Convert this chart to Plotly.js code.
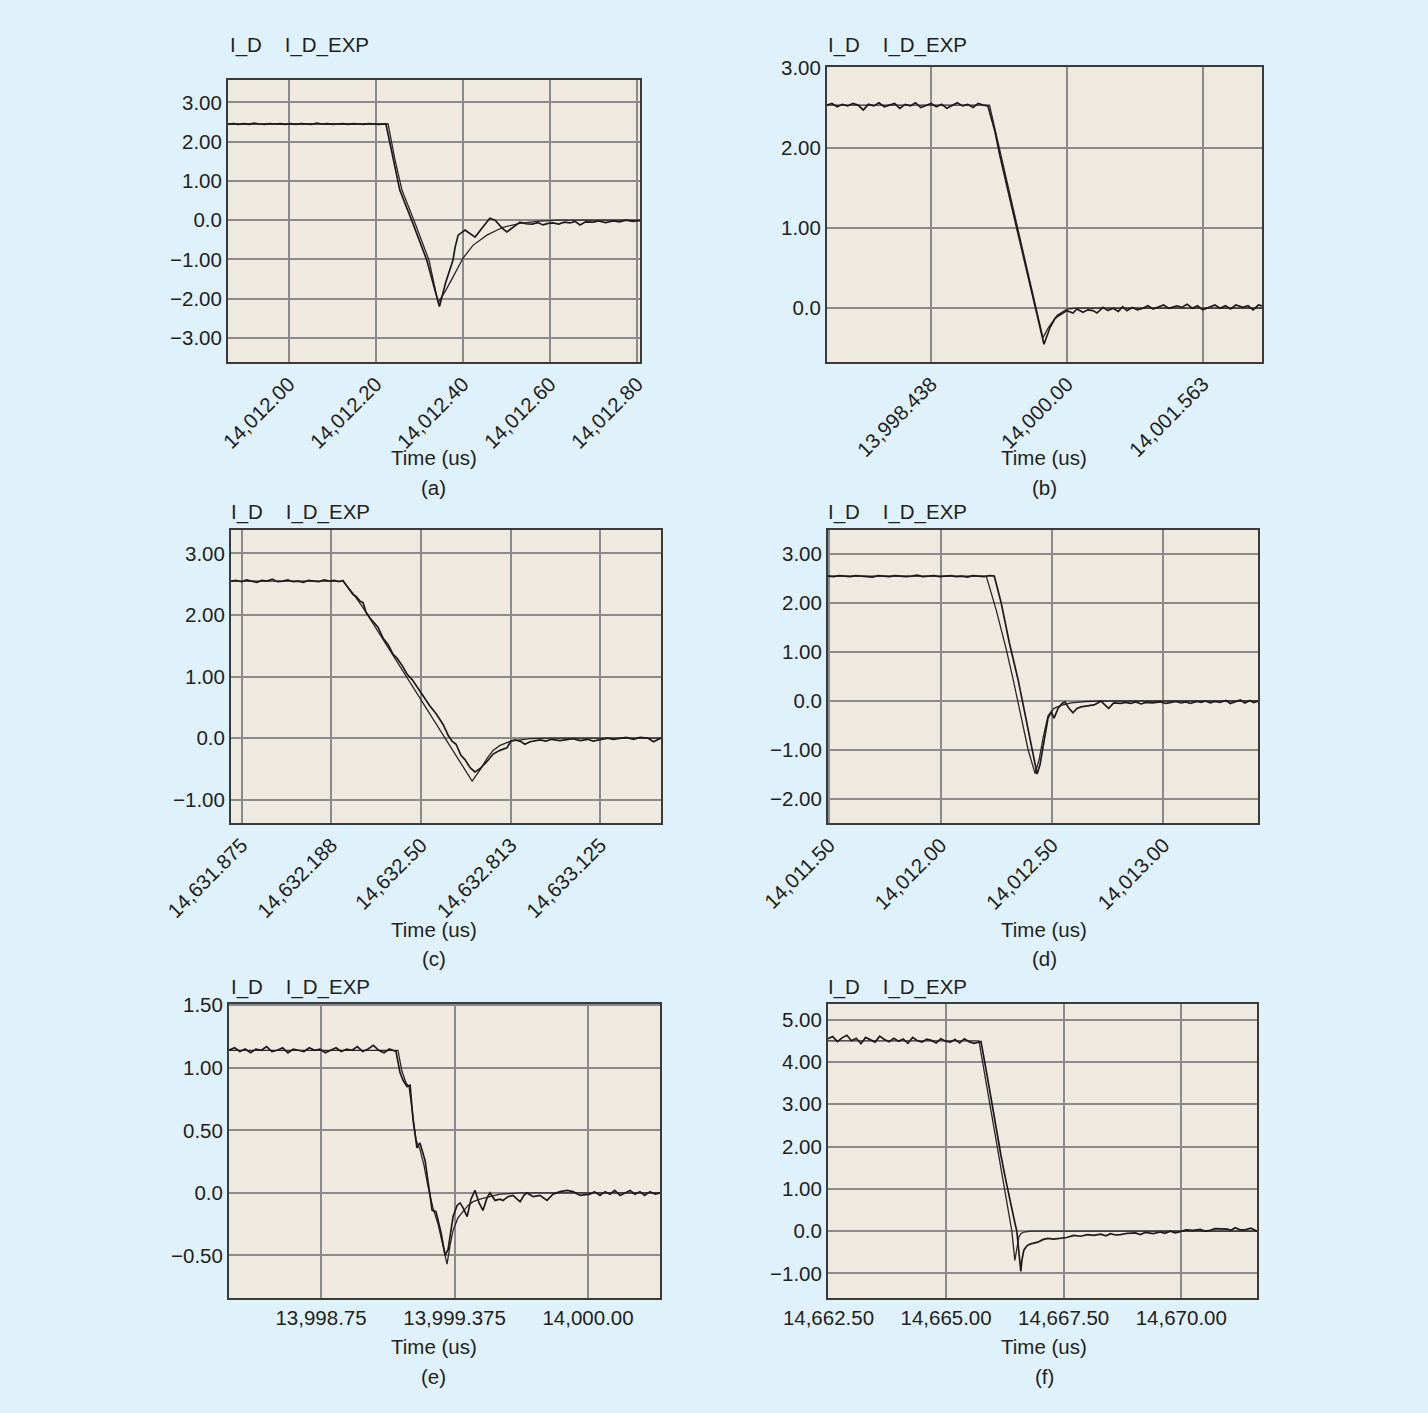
<!DOCTYPE html>
<html><head><meta charset="utf-8">
<script src="https://cdn.plot.ly/plotly-3.0.1.min.js"></script>
<style>html,body{margin:0;padding:0;background:#dff1fb;}#chart{width:1428px;height:1413px;}</style>
</head><body><div id="chart"></div>
<script>
// ---------------- Panel (a) ----------------
const a_t_id=[14011.860,14011.872,14011.884,14011.896,14011.908,14011.920,14011.932,14011.944,14011.956,14011.968,14011.980,14011.992,14012.004,14012.016,14012.028,14012.040,14012.052,14012.064,14012.076,14012.088,14012.100,14012.112,14012.124,14012.136,14012.148,14012.160,14012.172,14012.184,14012.196,14012.208,14012.223,
14012.239,14012.255,14012.285,14012.317,14012.346,14012.360,14012.377,14012.382,14012.389,14012.405,14012.411,14012.428,14012.444,14012.462,14012.474,14012.490,14012.501,14012.515,14012.531,14012.545,14012.559,14012.572,14012.584,14012.596,14012.607,14012.620,14012.633,14012.646,14012.658,14012.669,14012.682,14012.699,14012.712,14012.728,14012.745,14012.760,14012.775,14012.790,14012.807];
const a_v_id=[2.45,2.46,2.44,2.46,2.44,2.47,2.45,2.44,2.46,2.45,2.46,2.44,2.46,2.44,2.46,2.45,2.44,2.47,2.45,2.46,2.44,2.45,2.46,2.44,2.46,2.45,2.44,2.46,2.45,2.44,2.45,
1.58,0.76,-0.08,-1.02,-2.20,-1.60,-1.02,-0.69,-0.38,-0.25,-0.30,-0.43,-0.20,0.05,0.00,-0.20,-0.30,-0.18,-0.05,-0.09,-0.10,-0.06,-0.12,-0.08,-0.07,-0.10,-0.05,-0.07,-0.03,-0.12,-0.04,-0.05,-0.02,-0.06,-0.02,-0.04,0.00,-0.03,-0.01];
const a_t_exp=[14011.860,14012.228,14012.243,14012.260,14012.290,14012.322,14012.343,14012.360,14012.377,14012.400,14012.423,14012.455,14012.492,14012.531,14012.570,14012.620,14012.807];
const a_v_exp=[2.45,2.45,1.58,0.76,-0.08,-1.02,-2.10,-1.80,-1.45,-0.97,-0.64,-0.38,-0.18,-0.08,-0.03,0.0,0.0];
const a_xtick_vals=[14012.0,14012.2,14012.4,14012.6,14012.8];
const a_xtick_text=["14,012.00","14,012.20","14,012.40","14,012.60","14,012.80"];
const a_ytick_vals=[3,2,1,0,-1,-2,-3];
const a_ytick_text=["3.00","2.00","1.00","0.0","\u22121.00","\u22122.00","\u22123.00"];

// ---------------- Panel (b) ----------------
const b_t_id=[13997.243,13997.30,13997.36,13997.42,13997.48,13997.54,13997.60,13997.66,13997.72,13997.78,13997.84,13997.90,13997.96,13998.02,13998.08,13998.14,13998.20,13998.26,13998.32,13998.38,13998.44,13998.50,13998.56,13998.62,13998.68,13998.74,13998.80,13998.86,13998.92,13998.98,13999.04,13999.092,
13999.173,13999.230,13999.345,13999.460,13999.575,13999.667,13999.736,13999.805,13999.862,13999.908,14000.000,14000.069,14000.115,14000.184,14000.240,14000.299,14000.345,14000.414,14000.470,14000.530,14000.590,14000.640,14000.689,14000.750,14000.810,14000.873,14000.930,14000.990,14001.050,14001.110,14001.170,14001.264,14001.320,14001.380,14001.440,14001.500,14001.560,14001.643,14001.700,14001.760,14001.820,14001.880,14001.940,14002.022,14002.080,14002.140,14002.200,14002.241];
const b_v_id=[2.53,2.55,2.51,2.54,2.52,2.55,2.53,2.47,2.54,2.52,2.56,2.51,2.53,2.55,2.49,2.54,2.52,2.56,2.50,2.53,2.55,2.51,2.54,2.49,2.53,2.56,2.52,2.54,2.50,2.55,2.53,2.52,
2.20,1.90,1.36,0.83,0.29,-0.14,-0.45,-0.24,-0.13,-0.09,-0.03,-0.06,-0.01,-0.05,-0.02,-0.03,-0.06,0.01,-0.03,0.00,-0.04,0.02,-0.03,0.01,-0.02,0.00,0.03,-0.01,0.02,0.04,0.00,0.03,0.01,0.05,0.00,0.03,-0.02,0.02,0.04,0.00,0.03,-0.01,0.04,0.01,0.03,-0.02,0.04,0.03];
const b_t_exp=[13997.243,13999.110,13999.400,13999.724,13999.782,13999.885,14000.000,14000.100,14002.241];
const b_v_exp=[2.53,2.53,1.16,-0.37,-0.25,-0.09,-0.01,0.0,0.0];
const b_xtick_vals=[13998.4375,14000.0,14001.5625];
const b_xtick_text=["13,998.438","14,000.00","14,001.563"];
const b_ytick_vals=[3,2,1,0];
const b_ytick_text=["3.00","2.00","1.00","0.0"];

// ---------------- Panel (c) ----------------
const c_t_id=[14631.838,14631.856,14631.874,14631.892,14631.910,14631.928,14631.946,14631.964,14631.982,14632.000,14632.018,14632.036,14632.054,14632.072,14632.090,14632.108,14632.126,14632.144,14632.162,14632.180,14632.198,14632.214,14632.228,
14632.253,14632.263,14632.274,14632.288,14632.298,14632.308,14632.322,14632.336,14632.350,14632.368,14632.385,14632.403,14632.416,14632.434,14632.451,14632.469,14632.490,14632.507,14632.531,14632.552,14632.577,14632.594,14632.608,14632.622,14632.639,14632.653,14632.671,14632.688,14632.705,14632.730,14632.751,14632.775,14632.799,14632.813,14632.827,14632.845,14632.862,14632.880,14632.900,14632.914,14632.935,14632.955,14632.984,14633.005,14633.030,14633.054,14633.080,14633.100,14633.123,14633.150,14633.170,14633.193,14633.215,14633.240,14633.263,14633.290,14633.310,14633.336];
const c_v_id=[2.55,2.56,2.54,2.57,2.55,2.53,2.56,2.55,2.58,2.54,2.55,2.57,2.54,2.55,2.53,2.56,2.55,2.54,2.57,2.55,2.56,2.54,2.56,
2.38,2.33,2.30,2.22,2.20,2.05,1.95,1.87,1.80,1.62,1.52,1.36,1.30,1.18,1.04,0.95,0.80,0.68,0.52,0.40,0.22,0.05,-0.05,-0.10,-0.28,-0.35,-0.48,-0.55,-0.50,-0.38,-0.26,-0.20,-0.16,-0.05,-0.03,-0.05,-0.10,-0.06,-0.04,-0.03,-0.05,-0.02,-0.04,-0.03,-0.01,-0.04,-0.02,-0.05,-0.03,0.00,-0.02,-0.01,0.01,-0.02,0.01,0.00,-0.06,0.00];
const c_t_exp=[14631.838,14632.228,14632.263,14632.298,14632.678,14632.705,14632.730,14632.751,14632.775,14632.813,14632.880,14632.950,14633.336];
const c_v_exp=[2.55,2.55,2.35,2.12,-0.70,-0.52,-0.33,-0.20,-0.12,-0.05,-0.01,0.0,0.0];
const c_xtick_vals=[14631.875,14632.1875,14632.5,14632.8125,14633.125];
const c_xtick_text=["14,631.875","14,632.188","14,632.50","14,632.813","14,633.125"];
const c_ytick_vals=[3,2,1,0,-1];
const c_ytick_text=["3.00","2.00","1.00","0.0","\u22121.00"];

// ---------------- Panel (d) ----------------
const d_t_id=[14011.495,14011.520,14011.545,14011.570,14011.595,14011.620,14011.645,14011.670,14011.695,14011.720,14011.745,14011.770,14011.795,14011.820,14011.845,14011.870,14011.895,14011.920,14011.945,14011.970,14011.995,14012.020,14012.045,14012.070,14012.095,14012.120,14012.145,14012.170,14012.195,14012.220,14012.241,
14012.272,14012.308,14012.348,14012.384,14012.411,14012.433,14012.446,14012.464,14012.482,14012.496,14012.509,14012.527,14012.545,14012.558,14012.576,14012.594,14012.612,14012.629,14012.661,14012.688,14012.705,14012.719,14012.737,14012.754,14012.777,14012.808,14012.830,14012.853,14012.875,14012.900,14012.920,14012.950,14012.987,14013.010,14013.035,14013.054,14013.080,14013.100,14013.121,14013.150,14013.170,14013.188,14013.210,14013.230,14013.254,14013.280,14013.300,14013.321,14013.345,14013.365,14013.388,14013.405,14013.424];
const d_v_id=[2.55,2.54,2.56,2.55,2.54,2.56,2.55,2.55,2.53,2.56,2.55,2.54,2.56,2.55,2.54,2.55,2.57,2.54,2.55,2.56,2.54,2.55,2.56,2.54,2.55,2.53,2.56,2.55,2.54,2.56,2.55,
2.00,1.20,0.43,-0.40,-1.05,-1.49,-1.30,-0.85,-0.35,-0.22,-0.35,-0.15,-0.05,-0.02,-0.15,-0.24,-0.15,-0.12,-0.10,-0.08,-0.04,0.00,-0.08,-0.15,-0.04,-0.05,-0.03,-0.05,-0.02,-0.06,-0.03,-0.04,-0.02,-0.05,-0.03,-0.01,-0.04,-0.02,-0.05,-0.01,-0.03,0.00,-0.04,-0.01,-0.03,0.01,-0.05,-0.01,0.02,-0.04,0.01,-0.03,0.00];
const d_t_exp=[14011.495,14012.205,14012.250,14012.295,14012.326,14012.362,14012.393,14012.424,14012.442,14012.460,14012.482,14012.509,14012.540,14012.585,14012.652,14012.719,14013.424];
const d_v_exp=[2.55,2.55,1.85,1.05,0.43,-0.35,-1.00,-1.48,-1.20,-0.75,-0.30,-0.15,-0.09,-0.04,-0.01,0.0,0.0];
const d_xtick_vals=[14011.5,14012.0,14012.5,14013.0];
const d_xtick_text=["14,011.50","14,012.00","14,012.50","14,013.00"];
const d_ytick_vals=[3,2,1,0,-1,-2];
const d_ytick_text=["3.00","2.00","1.00","0.0","\u22121.00","\u22122.00"];

// ---------------- Panel (e) ----------------
const e_t_id=[13998.319,13998.345,13998.370,13998.395,13998.420,13998.445,13998.470,13998.495,13998.520,13998.545,13998.570,13998.595,13998.620,13998.645,13998.670,13998.695,13998.720,13998.745,13998.770,13998.795,13998.820,13998.845,13998.870,13998.895,13998.920,13998.945,13998.970,13998.995,13999.020,13999.045,13999.070,13999.101,
13999.120,13999.134,13999.153,13999.167,13999.181,13999.199,13999.213,13999.237,13999.260,13999.270,13999.288,13999.312,13999.331,13999.345,13999.368,13999.387,13999.401,13999.415,13999.434,13999.452,13999.471,13999.490,13999.508,13999.527,13999.541,13999.565,13999.588,13999.602,13999.625,13999.649,13999.668,13999.682,13999.700,13999.714,13999.743,13999.775,13999.808,13999.836,13999.869,13999.902,13999.930,13999.963,14000.009,14000.030,14000.056,14000.080,14000.103,14000.125,14000.150,14000.175,14000.197,14000.220,14000.243,14000.265,14000.290,14000.315,14000.337];
const e_v_id=[1.14,1.16,1.13,1.15,1.12,1.15,1.14,1.17,1.13,1.14,1.16,1.12,1.15,1.14,1.13,1.16,1.14,1.15,1.12,1.14,1.16,1.13,1.15,1.14,1.17,1.13,1.15,1.18,1.14,1.12,1.15,1.13,
0.96,0.90,0.85,0.86,0.58,0.36,0.40,0.26,0.00,-0.14,-0.15,-0.32,-0.50,-0.45,-0.19,-0.10,-0.08,-0.12,-0.19,-0.05,0.02,-0.08,-0.14,-0.04,0.00,-0.06,-0.05,-0.06,-0.03,-0.02,-0.05,-0.07,-0.02,0.00,-0.03,-0.02,-0.06,-0.01,0.01,0.02,0.01,-0.02,-0.01,0.01,-0.02,0.01,-0.01,0.02,-0.02,0.00,0.02,-0.01,0.01,-0.02,0.01,-0.01,0.00];
const e_t_exp=[13998.319,13999.110,13999.129,13999.148,13999.162,13999.176,13999.195,13999.213,13999.232,13999.251,13999.274,13999.298,13999.321,13999.340,13999.354,13999.368,13999.391,13999.415,13999.438,13999.462,13999.494,13999.541,13999.588,13999.682,14000.337];
const e_v_exp=[1.14,1.14,0.97,0.88,0.85,0.65,0.42,0.35,0.22,0.05,-0.12,-0.25,-0.42,-0.57,-0.42,-0.30,-0.20,-0.15,-0.10,-0.07,-0.05,-0.03,-0.01,0.0,0.0];
const e_xtick_vals=[13998.75,13999.375,14000.0];
const e_xtick_text=["13,998.75","13,999.375","14,000.00"];
const e_ytick_vals=[1.5,1.0,0.5,0,-0.5];
const e_ytick_text=["1.50","1.00","0.50","0.0","\u22120.50"];

// ---------------- Panel (f) ----------------
const f_t_id=[14662.49,14662.59,14662.69,14662.79,14662.89,14662.99,14663.09,14663.19,14663.29,14663.39,14663.49,14663.59,14663.69,14663.79,14663.89,14663.99,14664.09,14664.19,14664.29,14664.39,14664.49,14664.59,14664.69,14664.79,14664.89,14664.99,14665.09,14665.19,14665.29,14665.39,14665.49,14665.59,14665.742,
14665.869,14665.975,14666.081,14666.165,14666.271,14666.377,14666.462,14666.504,14666.547,14666.589,14666.610,14666.653,14666.695,14666.737,14666.801,14666.864,14666.949,14667.055,14667.161,14667.288,14667.436,14667.564,14667.712,14667.860,14668.008,14668.136,14668.284,14668.400,14668.496,14668.600,14668.708,14668.856,14669.025,14669.130,14669.237,14669.400,14669.555,14669.650,14669.767,14669.870,14669.979,14670.100,14670.254,14670.403,14670.500,14670.614,14670.720,14670.826,14670.975,14671.060,14671.144,14671.250,14671.356,14671.480,14671.610];
const f_v_id=[4.55,4.60,4.48,4.57,4.63,4.50,4.56,4.43,4.58,4.52,4.47,4.61,4.53,4.48,4.56,4.49,4.54,4.44,4.58,4.50,4.47,4.54,4.51,4.45,4.55,4.49,4.47,4.53,4.45,4.55,4.48,4.44,4.48,
3.70,3.00,2.30,1.80,1.20,0.60,0.20,0.00,-0.50,-0.95,-0.70,-0.45,-0.38,-0.33,-0.30,-0.28,-0.26,-0.20,-0.17,-0.19,-0.17,-0.15,-0.10,-0.12,-0.08,-0.10,-0.07,-0.11,-0.06,-0.09,-0.08,-0.05,-0.04,-0.08,-0.03,-0.06,-0.02,-0.05,0.00,-0.04,-0.01,0.03,0.02,0.04,0.00,0.02,0.06,0.05,0.05,0.02,0.08,0.03,0.03,0.07,0.00];
const f_t_exp=[14662.49,14665.699,14665.847,14665.953,14666.059,14666.208,14666.314,14666.398,14666.462,14666.504,14666.547,14666.589,14666.653,14666.801,14671.61];
const f_v_exp=[4.50,4.50,3.54,2.85,2.16,1.20,0.55,0.00,-0.69,-0.40,-0.14,-0.06,-0.02,0.0,0.0];
const f_xtick_vals=[14662.5,14665.0,14667.5,14670.0];
const f_xtick_text=["14,662.50","14,665.00","14,667.50","14,670.00"];
const f_ytick_vals=[5,4,3,2,1,0,-1];
const f_ytick_text=["5.00","4.00","3.00","2.00","1.00","0.0","\u22121.00"];

const series_names=["I_D","I_D_EXP"];
const x_title="Time (us)";
const captions=["(a)","(b)","(c)","(d)","(e)","(f)"];

// ---------------- Layout helpers ----------------
const W=1428,H=1413;
const FONT='Liberation Sans, Arial, Helvetica, sans-serif';
const TXT='#231f20';
const FS=20.5;
function dx(l,r){return [l/W,r/W];}
function dy(t,b){return [1-b/H,1-t/H];}

const panels=[
 {tI:a_t_id,vI:a_v_id,tE:a_t_exp,vE:a_v_exp,xd:dx(228,640),yd:dy(80,362),xr:[14011.860,14012.807],yr:[-3.61,3.57],xtv:a_xtick_vals,xtt:a_xtick_text,ytv:a_ytick_vals,ytt:a_ytick_text,ang:-45,cx:434,lx:228,ly:45,ty:457,capy:487},
 {tI:b_t_id,vI:b_v_id,tE:b_t_exp,vE:b_v_exp,xd:dx(827,1262),yd:dy(67,362),xr:[13997.243,14002.241],yr:[-0.67,3.005],xtv:b_xtick_vals,xtt:b_xtick_text,ytv:b_ytick_vals,ytt:b_ytick_text,ang:-45,cx:1044,lx:826,ly:45,ty:457,capy:487},
 {tI:c_t_id,vI:c_v_id,tE:c_t_exp,vE:c_v_exp,xd:dx(231,661),yd:dy(530,823),xr:[14631.838,14633.336],yr:[-1.38,3.38],xtv:c_xtick_vals,xtt:c_xtick_text,ytv:c_ytick_vals,ytt:c_ytick_text,ang:-45,cx:434,lx:229,ly:512,ty:929,capy:958},
 {tI:d_t_id,vI:d_v_id,tE:d_t_exp,vE:d_v_exp,xd:dx(828,1258),yd:dy(530,823),xr:[14011.495,14013.424],yr:[-2.49,3.49],xtv:d_xtick_vals,xtt:d_xtick_text,ytv:d_ytick_vals,ytt:d_ytick_text,ang:-45,cx:1044,lx:826,ly:512,ty:929,capy:958},
 {tI:e_t_id,vI:e_v_id,tE:e_t_exp,vE:e_v_exp,xd:dx(229,660),yd:dy(1004,1298),xr:[13998.319,14000.337],yr:[-0.84,1.51],xtv:e_xtick_vals,xtt:e_xtick_text,ytv:e_ytick_vals,ytt:e_ytick_text,ang:0,cx:434,lx:229,ly:987,ty:1346,capy:1376},
 {tI:f_t_id,vI:f_v_id,tE:f_t_exp,vE:f_v_exp,xd:dx(828,1257),yd:dy(1004,1298),xr:[14662.49,14671.61],yr:[-1.58,5.37],xtv:f_xtick_vals,xtt:f_xtick_text,ytv:f_ytick_vals,ytt:f_ytick_text,ang:0,cx:1044,lx:826,ly:987,ty:1346,capy:1376}
];

const traces=[];
const layout={
 width:W,height:H,margin:{l:0,r:0,t:0,b:0},
 paper_bgcolor:'#dff1fb',plot_bgcolor:'#eeeae0',
 showlegend:false,hovermode:false,
 font:{family:FONT,size:FS,color:TXT},
 annotations:[]
};
panels.forEach((p,i)=>{
 const n=i===0?'':String(i+1);
 const xa='x'+n, ya='y'+n;
 traces.push({x:p.tE,y:p.vE,type:'scatter',mode:'lines',name:series_names[1],xaxis:xa,yaxis:ya,line:{color:'#2a2627',width:1.3}});
 traces.push({x:p.tI,y:p.vI,type:'scatter',mode:'lines',name:series_names[0],xaxis:xa,yaxis:ya,line:{color:'#1e1a1b',width:1.7}});
 const common={showline:true,mirror:true,linecolor:'#3a3a3a',linewidth:2,showgrid:true,gridcolor:'#8a8a8a',gridwidth:2,zeroline:false,ticks:'',fixedrange:true,tickfont:{family:FONT,size:FS,color:TXT}};
 layout['xaxis'+n]=Object.assign({},common,{domain:p.xd,anchor:ya,range:p.xr,tickmode:'array',tickvals:p.xtv,ticktext:p.xtt,tickangle:p.ang});
 layout['yaxis'+n]=Object.assign({},common,{domain:p.yd,anchor:xa,range:p.yr,tickmode:'array',tickvals:p.ytv,ticktext:p.ytt});
 layout.annotations.push({xref:'paper',yref:'paper',x:p.lx/W,y:1-p.ly/H,xanchor:'left',yanchor:'middle',showarrow:false,text:series_names[0]+'\u00a0\u00a0\u00a0\u00a0'+series_names[1],font:{family:FONT,size:FS,color:TXT}});
 layout.annotations.push({xref:'paper',yref:'paper',x:p.cx/W,y:1-p.ty/H,xanchor:'center',yanchor:'middle',showarrow:false,text:x_title,font:{family:FONT,size:FS,color:TXT}});
 layout.annotations.push({xref:'paper',yref:'paper',x:p.cx/W,y:1-p.capy/H,xanchor:'center',yanchor:'middle',showarrow:false,text:captions[i],font:{family:FONT,size:FS,color:TXT}});
});
Plotly.newPlot('chart',traces,layout,{staticPlot:true,displayModeBar:false});
</script>
</body></html>
